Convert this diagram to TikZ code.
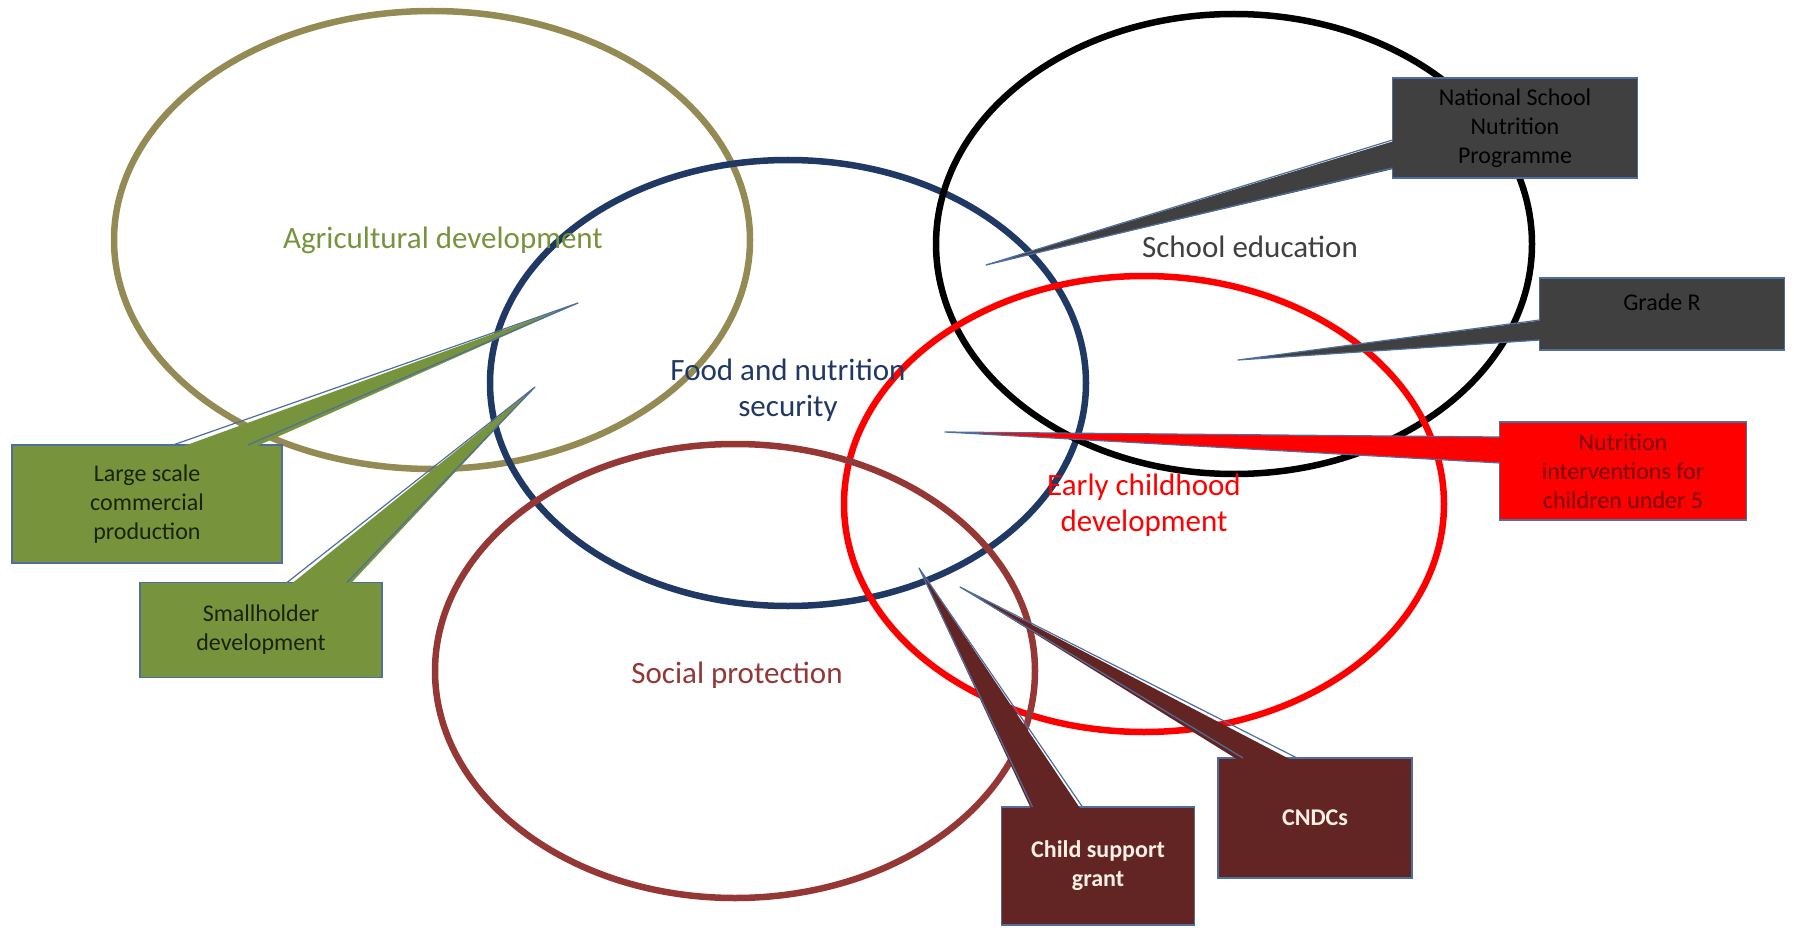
\documentclass[tikz,border=0pt]{standalone}
\usepackage{fontspec}
\setmainfont{Carlito}
\usetikzlibrary{shapes.geometric, calc}
\definecolor{agriline}{RGB}{148,138,84}
\definecolor{agritext}{RGB}{119,147,60}
\definecolor{foodnavy}{RGB}{31,56,100}
\definecolor{socialred}{RGB}{149,55,53}
\definecolor{schooltext}{RGB}{64,64,64}
\definecolor{greenbox}{RGB}{119,147,60}
\definecolor{greybox}{RGB}{64,64,64}
\definecolor{maroonbox}{RGB}{99,37,35}
\definecolor{boxedge}{RGB}{79,110,160}

\begin{document}
\begin{tikzpicture}[x=1pt, y=-1pt,
    zone/.style={ellipse, draw, line width=6.5pt, inner sep=0pt},
    zonetext/.style={align=center, font=\fontsize{31}{36}\selectfont},
    box/.style={rectangle, draw=boxedge, line width=1.5pt, outer sep=0pt, align=center, inner sep=4pt, font=\fontsize{24}{29}\selectfont},
    pointer/.style={draw=boxedge, line width=1.2pt, line join=round}
]
\useasboundingbox (0,0) rectangle (1794,928);

% Ellipses
\node[zone, draw=agriline, minimum width=636pt, minimum height=458pt] (agri) at (432,240) {};
\node[zone, draw=foodnavy, minimum width=596pt, minimum height=446pt] (food) at (788,383) {};
\node[zone, draw=black, minimum width=596pt, minimum height=460pt] (school) at (1234,244) {};
\node[zone, draw=red, minimum width=600pt, minimum height=456pt] (early) at (1144,504) {};
\node[zone, draw=socialred, minimum width=600pt, minimum height=454pt] (social) at (735,671) {};

\node[zonetext, text=agritext] (agrilabel) at (443,240) {Agricultural development};
\node[zonetext, text=foodnavy] (foodlabel) at (788,390) {Food and nutrition\\security};
\node[zonetext, text=schooltext] (schoollabel) at (1250,247) {School education};
\node[zonetext, text=red] (earlylabel) at (1144,505) {Early childhood\\development};
\node[zonetext, text=socialred] (sociallabel) at (737,675) {Social protection};

% Boxes
\node[box, fill=greenbox, text={rgb,255:red,25;green,35;blue,10}, minimum width=270pt, minimum height=118pt] (lsc) at (147,504) {Large scale\\commercial\\production};
\node[box, fill=greenbox, text={rgb,255:red,25;green,35;blue,10}, minimum width=242pt, minimum height=95pt] (small) at (261,630) {Smallholder\\development};
\node[box, fill=greybox, text=black, minimum width=245pt, minimum height=100pt] (nsnp) at (1515,128) {National School\\Nutrition\\Programme};
\node[box, fill=greybox, text=black, minimum width=245pt, minimum height=72pt, text depth=24pt] (grade) at (1662,314) {Grade R};
\node[box, fill=red, text={rgb,255:red,120;green,0;blue,0}, minimum width=247pt, minimum height=98pt] (nutri) at (1623,471) {Nutrition\\interventions for\\children under 5};
\node[box, fill=maroonbox, text={rgb,255:red,255;green,240;blue,230}, font=\bfseries\fontsize{24}{29}\selectfont, minimum width=193pt, minimum height=118pt] (csg) at (1098,866) {Child support\\grant};
\node[box, fill=maroonbox, text={rgb,255:red,255;green,240;blue,230}, font=\bfseries\fontsize{24}{29}\selectfont, minimum width=194pt, minimum height=120pt] (cndc) at (1315,818) {CNDCs};

% Pointer tips
\coordinate (lsctip) at (578,303);
\coordinate (smalltip) at (535,387);
\coordinate (nsnptip) at (986,265);
\coordinate (gradetip) at (1238,360);
\coordinate (nutritip) at (945,432);
\coordinate (csgtip) at (919,568);
\coordinate (cndctip) at (960,587);

% Pointers
\fill[greenbox] ($(lsc.north west)+(161,5)$) -- (lsctip) -- ($(lsc.north west)+(236,5)$) -- cycle;
\draw[pointer] ($(lsc.north west)+(161,0)$) -- (lsctip) -- ($(lsc.north west)+(236,0)$);

\fill[greenbox] ($(small.north west)+(147,5)$) -- (smalltip) -- ($(small.north west)+(207,5)$) -- cycle;
\draw[pointer] ($(small.north west)+(147,0)$) -- (smalltip) -- ($(small.north west)+(207,0)$);

\fill[greybox] ($(nsnp.north west)+(5,62)$) -- (nsnptip) -- ($(nsnp.north west)+(5,90)$) -- cycle;
\draw[pointer] ($(nsnp.north west)+(0,62)$) -- (nsnptip) -- ($(nsnp.north west)+(0,90)$);

\fill[greybox] ($(grade.north west)+(5,42)$) -- (gradetip) -- ($(grade.north west)+(5,62)$) -- cycle;
\draw[pointer] ($(grade.north west)+(0,42)$) -- (gradetip) -- ($(grade.north west)+(0,62)$);

\fill[red] ($(nutri.north west)+(5,15)$) -- (nutritip) -- ($(nutri.north west)+(5,41)$) -- cycle;
\draw[pointer] ($(nutri.north west)+(0,15)$) -- (nutritip) -- ($(nutri.north west)+(0,41)$);

\fill[maroonbox] ($(csg.north west)+(31,5)$) -- (csgtip) -- ($(csg.north west)+(81,5)$) -- cycle;
\draw[pointer] ($(csg.north west)+(31,0)$) -- (csgtip) -- ($(csg.north west)+(81,0)$);

\fill[maroonbox] ($(cndc.north west)+(25,5)$) -- (cndctip) -- ($(cndc.north west)+(79,5)$) -- cycle;
\draw[pointer] ($(cndc.north west)+(25,0)$) -- (cndctip) -- ($(cndc.north west)+(79,0)$);

\end{tikzpicture}
\end{document}
